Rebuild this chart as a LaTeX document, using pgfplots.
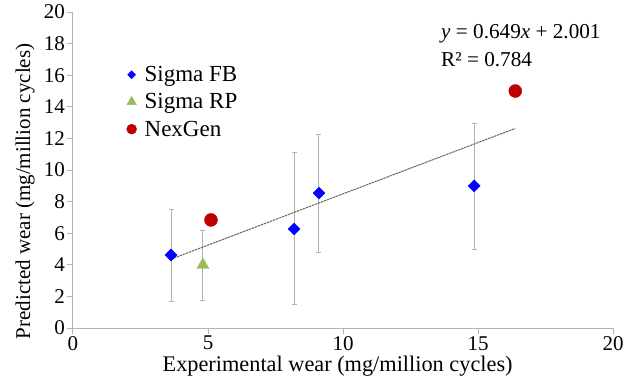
\documentclass[border=0pt]{standalone}
\usepackage{fontspec}
\setmainfont{Liberation Serif}
\usepackage{pgfplots}
\pgfplotsset{compat=1.18}
\definecolor{fbblue}{RGB}{0,0,255}
\definecolor{rpgreen}{RGB}{155,187,89}
\definecolor{ngred}{RGB}{192,0,0}
\begin{document}
\begin{tikzpicture}
\begin{axis}[
  scale only axis, width=540pt, height=316pt,
  xmin=0, xmax=20, ymin=0, ymax=20,
  xtick={0,5,...,20}, ytick={0,2,...,20},
  axis x line*=bottom, axis y line*=left,
  axis line style={gray!60, line width=1pt},
  tick style={gray!60, line width=1pt},
  tick align=outside, major tick length=6pt,
  /pgf/number format/assume math mode=true,
  ticklabel style={font=\fontsize{21}{22}\selectfont, inner sep=2pt},
  xlabel={Experimental wear (mg/million cycles)},
  ylabel={Predicted wear (mg/million cycles)},
  every axis x label/.style={at={(axis description cs:0.49,-0.139)}, anchor=base, font=\fontsize{22.3}{24}\selectfont},
  every axis y label/.style={at={(axis description cs:-0.0796,0.432)}, anchor=base, rotate=90, font=\fontsize{21}{22}\selectfont},
  legend style={at={(axis description cs:0.099,0.835)}, anchor=north west, draw=none, fill=none,
    font=\fontsize{23}{24}\selectfont, row sep=6.5pt, column sep=6pt, inner sep=0pt},
  legend cell align=left,
  clip=false,
]
\addplot[only marks, mark=diamond*, mark size=6pt, mark options={xscale=1.33}, color=fbblue,
  legend image post style={mark size=4pt},
  error bars/.cd, y dir=both, y explicit,
  error bar style={gray!60, line width=1pt, xscale=1},
  error mark options={rotate=90, mark size=2.5pt, gray!60}]
  table[x=x, y=y, y error plus=ep, y error minus=em] {
x y ep em
3.63 4.62 2.91 2.92
8.19 6.27 4.87 4.75
9.11 8.54 3.74 3.73
14.86 8.99 3.98 3.99
};
\addlegendentry{Sigma FB}
\addplot[only marks, mark=triangle*, mark size=7pt, color=rpgreen,
  legend image post style={mark size=5.5pt},
  error bars/.cd, y dir=both, y explicit,
  error bar style={gray!60, line width=1pt},
  error mark options={rotate=90, mark size=2.5pt, gray!60}]
  table[x=x, y=y, y error plus=ep, y error minus=em] {
x y ep em
4.81 3.99 2.21 2.22
};
\addlegendentry{Sigma RP}
\addplot[only marks, mark=*, mark size=6.5pt, color=ngred,
  legend image post style={mark size=5pt}]
  coordinates {(5.11,6.84) (16.38,15.0)};
\addlegendentry{NexGen}
\addplot[forget plot, gray!80!black, line width=1pt, dash pattern=on 2.5pt off 0.7pt]
  coordinates {(3.63,4.357) (16.38,12.632)};
\node[anchor=base west, font=\fontsize{21.2}{22}\selectfont, inner sep=0pt] at (axis cs:13.63,18.35) {\textit{y} = 0.649\textit{x} + 2.001};
\node[anchor=base west, font=\fontsize{21.2}{22}\selectfont, inner sep=0pt] at (axis cs:13.63,16.58) {R² = 0.784};
\end{axis}
\pgfresetboundingbox
\path (current axis.south west) ++(-73pt,-55pt) rectangle ([xshift=20pt,yshift=12pt]current axis.north east);
\end{tikzpicture}
\end{document}
